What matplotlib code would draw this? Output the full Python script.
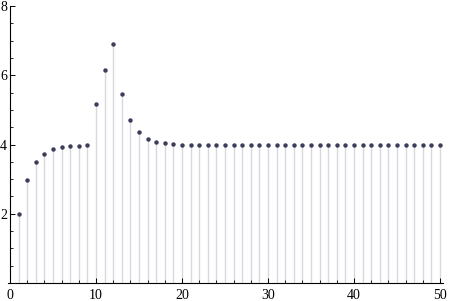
import numpy as np
import matplotlib.pyplot as plt
from matplotlib.ticker import MultipleLocator

plt.rcParams['font.family'] = ['Liberation Serif', 'DejaVu Serif']

n = np.arange(1, 51)
vals = [2.00, 2.97, 3.49, 3.72, 3.86, 3.92, 3.95, 3.95, 3.98, 5.16,
        6.15, 6.90, 5.45, 4.70, 4.36, 4.15, 4.07, 4.04, 4.01, 3.98] + [3.98] * 30
x_ticks = [0, 10, 20, 30, 40, 50]
y_ticks = [2, 4, 6, 8]

fig = plt.figure(figsize=(4.5, 3.01), dpi=100)
ax = fig.add_axes([7.85 / 450, 18 / 301, 435.6 / 450, 277 / 301])

ax.vlines(n, 0, vals, color='#d8d8e0', lw=1.0, zorder=1)
ax.plot(n, vals, 'o', ms=3.2, color='#3d3d5c', mec='none', zorder=2)

ax.set_xlim(-0.25, 50.4)
ax.set_ylim(0, 8)
ax.spines['left'].set_position(('data', 0))
ax.spines['bottom'].set_position(('data', 0))
ax.spines['top'].set_visible(False)
ax.spines['right'].set_visible(False)
for s in ('left', 'bottom'):
    ax.spines[s].set_linewidth(0.8)

ax.set_xticks(x_ticks)
ax.set_yticks(y_ticks)
ax.xaxis.set_minor_locator(MultipleLocator(2))
ax.yaxis.set_minor_locator(MultipleLocator(0.5))
ax.tick_params(which='major', direction='in', length=3.5, width=0.7, labelsize=10)
ax.tick_params(which='minor', direction='in', length=2, width=0.6)
ax.tick_params(axis='y', pad=2)
ax.tick_params(axis='x', pad=4)
ax.patch.set_alpha(0)

fig.savefig('out.png', dpi=100)
